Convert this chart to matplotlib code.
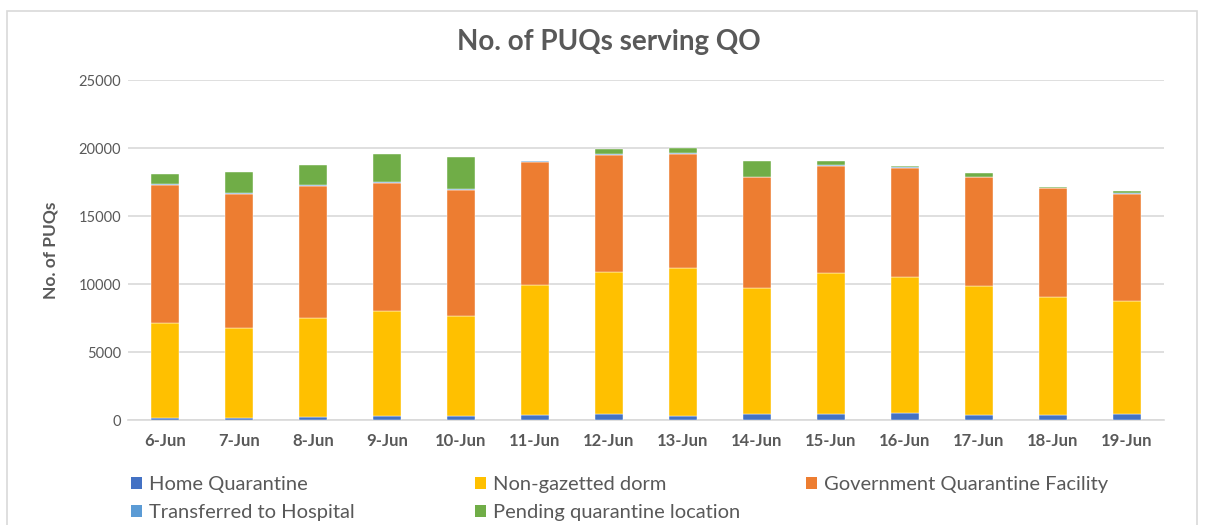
import matplotlib
matplotlib.use("Agg")
import matplotlib.pyplot as plt
import numpy as np
from matplotlib.patches import Patch

plt.rcParams["font.family"] = ["Lato", "DejaVu Sans"]

dates = ["6-Jun", "7-Jun", "8-Jun", "9-Jun", "10-Jun", "11-Jun", "12-Jun",
         "13-Jun", "14-Jun", "15-Jun", "16-Jun", "17-Jun", "18-Jun", "19-Jun"]
home_quarantine = [150, 150, 230, 330, 330, 380, 420, 290, 430, 430, 480, 340, 400, 430]
non_gazetted_dorm = [6975, 6600, 7240, 7660, 7290, 9530, 10430, 10900, 9260, 10370, 10000, 9500, 8680, 8300]
gov_facility = [10175, 9880, 9726, 9460, 9310, 9040, 8620, 8400, 8150, 7900, 8050, 8000, 7950, 7900]
transferred_hospital = [60, 60, 60, 60, 60, 60, 60, 60, 60, 60, 60, 60, 60, 60]
pending_location = [760, 1550, 1480, 2020, 2370, 50, 370, 340, 1110, 300, 100, 250, 50, 170]

series = [
    ("Home Quarantine", home_quarantine, "#4472C4"),
    ("Non-gazetted dorm", non_gazetted_dorm, "#FFC000"),
    ("Government Quarantine Facility", gov_facility, "#ED7D31"),
    ("Transferred to Hospital", transferred_hospital, "#5B9BD5"),
    ("Pending quarantine location", pending_location, "#70AD47"),
]

TEXT = "#595959"
GRID = "#D9D9D9"

fig = plt.figure(figsize=(12.05, 5.25), dpi=100)
ax = fig.add_axes([0.1062, 0.2, 0.8598, 0.6476])

x = np.arange(len(dates))
bottom = np.zeros(len(dates))
handles = {}
for name, values, color in series:
    vals = np.array(values, dtype=float)
    ax.bar(x, vals, bottom=bottom, width=0.39, color=color,
           edgecolor="white", linewidth=0.3, zorder=3)
    bottom += vals
    handles[name] = Patch(facecolor=color, edgecolor="none")

ax.set_xlim(-0.5, len(dates) - 0.5)
ax.set_ylim(0, 25000)
ax.set_yticks(range(0, 25001, 5000))
ax.set_xticks(x)
ax.set_xticklabels(dates, fontweight="bold", fontsize=12)
ax.tick_params(axis="both", length=0, colors=TEXT)
ax.tick_params(axis="y", labelsize=10.5, pad=5)
ax.tick_params(axis="x", pad=9)
ax.grid(axis="y", color=GRID, linewidth=1.2, zorder=0)
for side in ["top", "right", "left"]:
    ax.spines[side].set_visible(False)
ax.spines["bottom"].set_color(GRID)
ax.spines["bottom"].set_linewidth(1.2)

ax.set_ylabel("No. of PUQs", fontsize=12.5, fontweight="bold", color=TEXT, labelpad=14)
fig.text(0.505, 0.92, "No. of PUQs serving QO", ha="center", va="center",
         fontsize=20, fontweight="bold", color=TEXT)

# legend laid out in three columns, placed one by one
columns = [
    (0.109, ["Home Quarantine", "Transferred to Hospital"]),
    (0.394, ["Non-gazetted dorm", "Pending quarantine location"]),
    (0.669, ["Government Quarantine Facility"]),
]
for xpos, names in columns:
    leg = fig.legend([handles[n] for n in names], names, loc="upper left",
                     bbox_to_anchor=(xpos, 0.093), frameon=False, fontsize=14.5,
                     handlelength=0.55, handleheight=0.55, handletextpad=0.35,
                     labelspacing=0.55, borderaxespad=0, borderpad=0)
    for t in leg.get_texts():
        t.set_color(TEXT)

# light chart-area frame
frame = plt.Rectangle((7.5 / 1205, -0.1), (1197 - 7.5) / 1205, 1.1 - 10.5 / 525,
                      transform=fig.transFigure, fill=False, edgecolor=GRID,
                      linewidth=1.2)
fig.patches.append(frame)

fig.savefig("out.png", dpi=100, facecolor="white")
